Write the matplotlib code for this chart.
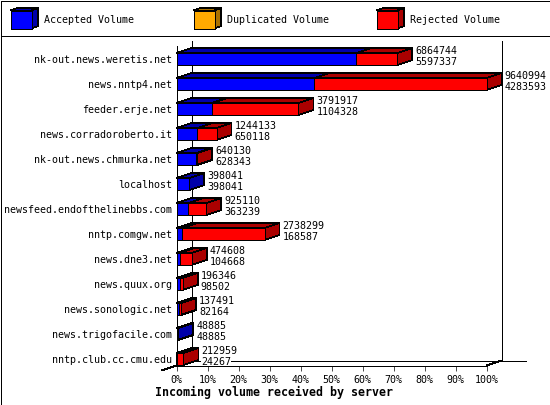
import matplotlib
matplotlib.use("Agg")
import matplotlib.pyplot as plt
from matplotlib.patches import Polygon

plt.rcParams['font.family'] = ['DejaVu Sans Mono']
plt.rcParams['text.antialiased'] = True
plt.rcParams['patch.antialiased'] = False
plt.rcParams['lines.antialiased'] = False

servers = ["nk-out.news.weretis.net", "news.nntp4.net", "feeder.erje.net",
           "news.corradoroberto.it", "nk-out.news.chmurka.net", "localhost",
           "newsfeed.endofthelinebbs.com", "nntp.comgw.net", "news.dne3.net",
           "news.quux.org", "news.sonologic.net", "news.trigofacile.com",
           "nntp.club.cc.cmu.edu"]
total = [6864744, 9640994, 3791917, 1244133, 640130, 398041, 925110,
         2738299, 474608, 196346, 137491, 48885, 212959]
accepted = [5597337, 4283593, 1104328, 650118, 628343, 398041, 363239,
            168587, 104668, 98502, 82164, 48885, 24267]
percent_ticks = [0, 10, 20, 30, 40, 50, 60, 70, 80, 90, 100]
legend_names = ["Accepted Volume", "Duplicated Volume", "Rejected Volume"]

BLUE, DARK_BLUE = "#0000ff", "#0000aa"
ORANGE, DARK_ORANGE = "#ffaa00", "#aa7100"
RED, DARK_RED = "#ff0000", "#aa0000"
LW = 0.5

W, H = 550, 405
fig = plt.figure(figsize=(W / 100, H / 100), dpi=100)

# overlay in pixel coordinates for frame, legend and title
bg = fig.add_axes([0, 0, 1, 1])
bg.set_xlim(0, W)
bg.set_ylim(H, 0)
bg.axis("off")


def px_line(xs, ys, **kw):
    bg.plot(xs, ys, color="black", lw=LW, solid_capstyle="projecting", **kw)


px_line([0.5, 549.5, 549.5, 0.5, 0.5], [0.5, 0.5, 404.5, 404.5, 0.5])
px_line([0.5, 549.5], [35.5, 35.5])

# back wall and floor
px_line([191.5, 191.5], [40.5, 360.5])
px_line([501.5, 501.5], [40.5, 360.5])
px_line([191.5, 525.5], [360.5, 360.5])
px_line([161.5, 191.5], [370.5, 360.5])
px_line([486.5, 501.5], [365.5, 360.5])


def swatch(x, face, side):
    y0, y1, w, dx, dy = 10.5, 28.5, 21, 6.5, 2.5
    bg.add_patch(Polygon([(x, y0), (x + dx, y0 - dy), (x + w + dx, y0 - dy), (x + w, y0)],
                         fc=side, ec="black", lw=LW))
    bg.add_patch(Polygon([(x + w, y0), (x + w + dx, y0 - dy), (x + w + dx, y1 - dy), (x + w, y1)],
                         fc=side, ec="black", lw=LW))
    bg.add_patch(Polygon([(x, y0), (x + w, y0), (x + w, y1), (x, y1)],
                         fc=face, ec="black", lw=LW))


swatch(10.5, BLUE, DARK_BLUE)
swatch(193.5, ORANGE, DARK_ORANGE)
swatch(376.5, RED, DARK_RED)
for lx, name in zip([44.5, 227, 410.5], legend_names):
    bg.text(lx, 20, name, fontsize=7.2, va="center", ha="left")

bg.text(274, 392.5, "Incoming volume received by server", fontsize=8.4,
        fontweight="bold", ha="center", va="center")

# front plane of the chart: x in percent of the biggest server, y in rows
left, right, bottom, top = 176.5, 486.5, 365.5, 45.5
ax = fig.add_axes([left / W, 1 - bottom / H, (right - left) / W, (bottom - top) / H])
ax.patch.set_alpha(0)
row_px = 25
ax.set_xlim(0, 100)
ax.set_ylim((bottom - 59) / row_px, (top - 59) / row_px)
for name in ("top", "right", "bottom"):
    ax.spines[name].set_visible(False)
ax.spines["left"].set_linewidth(LW)

ax.set_xticks(percent_ticks)
ax.set_xticklabels([f"{p}%" for p in percent_ticks], fontsize=7.2)
ax.tick_params(axis="x", length=3.6, width=LW, pad=3)
ax.set_yticks(range(len(servers)))
ax.set_yticklabels(servers, fontsize=7.2)
ax.tick_params(axis="y", length=0, pad=3)

depth_x = 15 / (right - left) * 100
depth_y = 5 / row_px
bar_h = 12 / row_px
biggest = max(total)


def box(row, start, end, face, side):
    y0, y1 = row - bar_h / 2, row + bar_h / 2
    ax.fill([start, start + depth_x, end + depth_x, end],
            [y0, y0 - depth_y, y0 - depth_y, y0],
            fc=side, ec="black", lw=LW, clip_on=False, zorder=3)
    ax.fill([end, end + depth_x, end + depth_x, end],
            [y0, y0 - depth_y, y1 - depth_y, y1],
            fc=side, ec="black", lw=LW, clip_on=False, zorder=3)
    ax.barh(row, end - start, left=start, height=bar_h, color=face,
            edgecolor="black", linewidth=LW, clip_on=False, zorder=3)


for row, (tot, acc) in enumerate(zip(total, accepted)):
    acc_pct = acc / biggest * 100
    tot_pct = tot / biggest * 100
    box(row, 0, acc_pct, BLUE, DARK_BLUE)
    if tot > acc:
        box(row, acc_pct, tot_pct, RED, DARK_RED)
    for val, off in ((tot, 8), (acc, -3)):
        ax.annotate(str(val), (tot_pct, row), xytext=(18, off), textcoords="offset pixels",
                    fontsize=7.2, va="center", ha="left", zorder=4,
                    bbox=dict(fc="white", ec="none", pad=0))

ax.axhline(ax.get_ylim()[0], color="black", lw=LW, clip_on=False, zorder=5)

fig.savefig("out.png", dpi=100)
